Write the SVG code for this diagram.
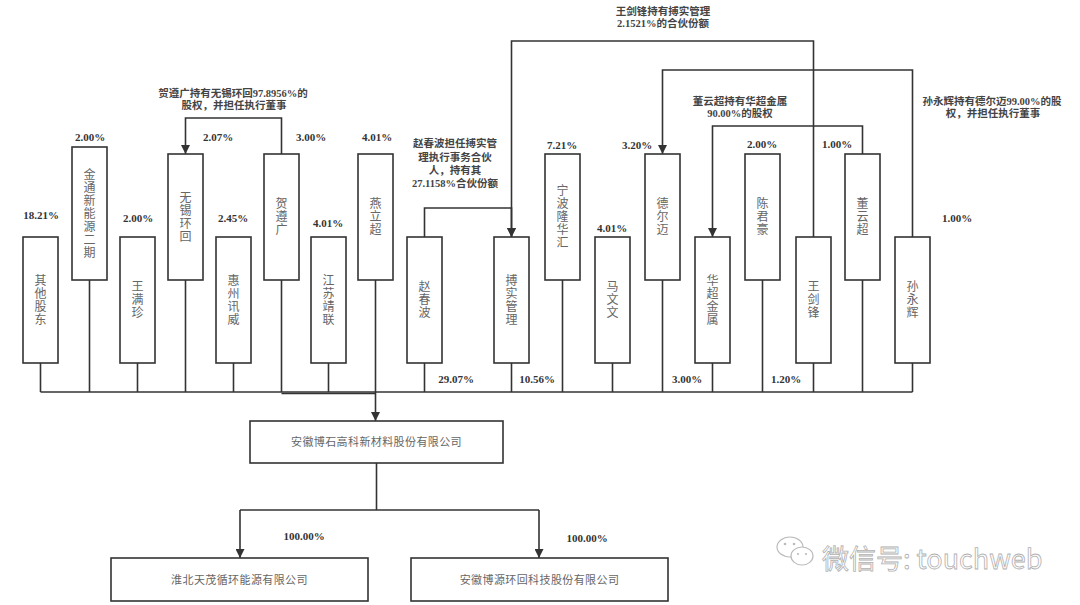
<svg xmlns="http://www.w3.org/2000/svg" width="1080" height="605" viewBox="0 0 1080 605">
<style>
.bg{fill:#ffffff}
.box rect{fill:#ffffff;stroke:#333;stroke-width:1.6}
.vt{font-family:"Noto Sans CJK SC","Noto Sans CJK JP",sans-serif;font-size:12px;fill:#666;text-anchor:middle;writing-mode:vertical-rl;glyph-orientation-vertical:0;letter-spacing:1px}
.ht{font-family:"Noto Sans CJK SC","Noto Sans CJK JP",sans-serif;font-size:11px;fill:#666;text-anchor:middle;letter-spacing:0.4px}
.pct{font-family:"Liberation Serif","Noto Sans CJK SC",serif;font-weight:bold;font-size:11px;fill:#333;text-anchor:middle}
.ann{font-family:"Liberation Serif","Noto Sans CJK SC",serif;font-weight:bold;font-size:10.5px;fill:#444;text-anchor:middle}
.ln{fill:none;stroke:#333;stroke-width:1.6}
.wm{font-family:"Noto Sans CJK SC",sans-serif;font-size:27px;fill:#ffffff;stroke:#b0b0b0;stroke-width:0.8}
</style>
<defs>
<marker id="arr2" viewBox="0 0 10 10" refX="10" refY="5" markerWidth="9" markerHeight="9" markerUnits="userSpaceOnUse" orient="auto">
<path d="M0,0 L10,5 L0,10 z" fill="#333"/>
</marker>
</defs>
<rect class="bg" x="0" y="0" width="1080" height="605"/>

<g id="connectors">
<path class="ln" d="M40.5 363V392M89.5 280V392M137.5 363V392M185.5 280V392M233.5 363V392M281.5 280V392M328.5 363V392M375.5 280V392M424.5 363V392M511.5 363V392M562.5 280V392M612.5 363V392M662.5 280V392M712.5 363V392M762.5 280V392M813.5 363V392M862.5 280V392M912.5 363V392"/>
<path class="ln" d="M40.5 392H912.5"/>
<path class="ln" d="M281.5 393.5H375.5"/>
<path class="ln" d="M375.5 392V421" marker-end="url(#arr2)"/>
<path class="ln" d="M281.5 154V118H185.5V154" marker-end="url(#arr2)"/>
<path class="ln" d="M424.5 237V208H511.5V237" marker-end="url(#arr2)"/>
<path class="ln" d="M813.5 237V41H511.5V237" marker-end="url(#arr2)"/>
<path class="ln" d="M912.5 237V70H662.5V154" marker-end="url(#arr2)"/>
<path class="ln" d="M862.5 154V126H712.5V237" marker-end="url(#arr2)"/>
<path class="ln" d="M376.5 463V510"/>
<path class="ln" d="M240 510H539"/>
<path class="ln" d="M240 510V558" marker-end="url(#arr2)"/>
<path class="ln" d="M539 510V558" marker-end="url(#arr2)"/>
</g>

<g id="labels">
<text class="pct" x="41" y="219">18.21%</text>
<text class="pct" x="90" y="141">2.00%</text>
<text class="pct" x="138" y="222">2.00%</text>
<text class="pct" x="218" y="141">2.07%</text>
<text class="pct" x="233" y="222">2.45%</text>
<text class="pct" x="311" y="141">3.00%</text>
<text class="pct" x="328" y="227">4.01%</text>
<text class="pct" x="377" y="141">4.01%</text>
<text class="pct" x="562" y="149">7.21%</text>
<text class="pct" x="612" y="232">4.01%</text>
<text class="pct" x="637" y="149">3.20%</text>
<text class="pct" x="762" y="148">2.00%</text>
<text class="pct" x="837" y="148">1.00%</text>
<text class="pct" x="957" y="222">1.00%</text>
<text class="pct" x="456" y="383">29.07%</text>
<text class="pct" x="537" y="383">10.56%</text>
<text class="pct" x="687" y="383">3.00%</text>
<text class="pct" x="786" y="383">1.20%</text>
<text class="pct" x="304" y="540">100.00%</text>
<text class="pct" x="587" y="542">100.00%</text>
<text class="ann" x="233" y="97">贺遵广持有无锡环回97.8956%的</text>
<text class="ann" x="234" y="109">股权，并担任执行董事</text>
<text class="ann" x="455" y="147">赵春波担任搏实管</text>
<text class="ann" x="455" y="161">理执行事务合伙</text>
<text class="ann" x="455" y="174">人，持有其</text>
<text class="ann" x="455" y="187">27.1158%合伙份额</text>
<text class="ann" x="663" y="15">王剑锋持有搏实管理</text>
<text class="ann" x="663" y="27">2.1521%的合伙份额</text>
<text class="ann" x="740" y="105">董云超持有华超金属</text>
<text class="ann" x="740" y="117">90.00%的股权</text>
<text class="ann" x="992" y="105">孙永辉持有德尔迈99.00%的股</text>
<text class="ann" x="993" y="117">权，并担任执行董事</text>
</g>

<g id="n1" class="box"><rect x="23" y="237" width="35" height="126"/><text class="vt" x="40.5" y="300">其他股东</text></g>
<g id="n2" class="box"><rect x="72" y="147" width="35" height="133"/><text class="vt" x="89.5" y="213.5">金通新能源二期</text></g>
<g id="n3" class="box"><rect x="120" y="237" width="35" height="126"/><text class="vt" x="137.5" y="300">王满珍</text></g>
<g id="n4" class="box"><rect x="168" y="154" width="35" height="126"/><text class="vt" x="185.5" y="217">无锡环回</text></g>
<g id="n5" class="box"><rect x="216" y="237" width="35" height="126"/><text class="vt" x="233.5" y="300">惠州讯威</text></g>
<g id="n6" class="box"><rect x="264" y="154" width="35" height="126"/><text class="vt" x="281.5" y="217">贺遵广</text></g>
<g id="n7" class="box"><rect x="311" y="237" width="35" height="126"/><text class="vt" x="328.5" y="300">江苏靖联</text></g>
<g id="n8" class="box"><rect x="358" y="154" width="35" height="126"/><text class="vt" x="375.5" y="217">燕立超</text></g>
<g id="n9" class="box"><rect x="407" y="237" width="35" height="126"/><text class="vt" x="424.5" y="300">赵春波</text></g>
<g id="n10" class="box"><rect x="494" y="237" width="35" height="126"/><text class="vt" x="511.5" y="300">搏实管理</text></g>
<g id="n11" class="box"><rect x="545" y="154" width="35" height="126"/><text class="vt" x="562.5" y="217">宁波隆华汇</text></g>
<g id="n12" class="box"><rect x="595" y="237" width="35" height="126"/><text class="vt" x="612.5" y="300">马文文</text></g>
<g id="n13" class="box"><rect x="645" y="154" width="35" height="126"/><text class="vt" x="662.5" y="217">德尔迈</text></g>
<g id="n14" class="box"><rect x="695" y="237" width="35" height="126"/><text class="vt" x="712.5" y="300">华超金属</text></g>
<g id="n15" class="box"><rect x="745" y="154" width="35" height="126"/><text class="vt" x="762.5" y="217">陈君豪</text></g>
<g id="n16" class="box"><rect x="796" y="237" width="35" height="126"/><text class="vt" x="813.5" y="300">王剑锋</text></g>
<g id="n17" class="box"><rect x="845" y="154" width="35" height="126"/><text class="vt" x="862.5" y="217">董云超</text></g>
<g id="n18" class="box"><rect x="895" y="237" width="35" height="126"/><text class="vt" x="912.5" y="300">孙永辉</text></g>

<g id="main" class="box"><rect x="250" y="421" width="253" height="42"/><text class="ht" x="376.5" y="446">安徽博石高科新材料股份有限公司</text></g>
<g id="sub1" class="box"><rect x="111" y="558" width="257" height="43"/><text class="ht" x="239.5" y="584">淮北天茂循环能源有限公司</text></g>
<g id="sub2" class="box"><rect x="411" y="558" width="257" height="43"/><text class="ht" x="539.5" y="584">安徽博源环回科技股份有限公司</text></g>

<g id="watermark">
<ellipse cx="790" cy="547" rx="13" ry="10" fill="#fff" stroke="#bbb" stroke-width="1.2"/>
<ellipse cx="802" cy="556" rx="11" ry="9" fill="#fff" stroke="#bbb" stroke-width="1.2"/>
<circle cx="785" cy="544" r="1.3" fill="#bbb"/><circle cx="794" cy="544" r="1.3" fill="#bbb"/>
<circle cx="798" cy="554" r="1.1" fill="#bbb"/><circle cx="806" cy="554" r="1.1" fill="#bbb"/>
<text class="wm" x="822" y="569">微信号: touchweb</text>
</g>
</svg>
